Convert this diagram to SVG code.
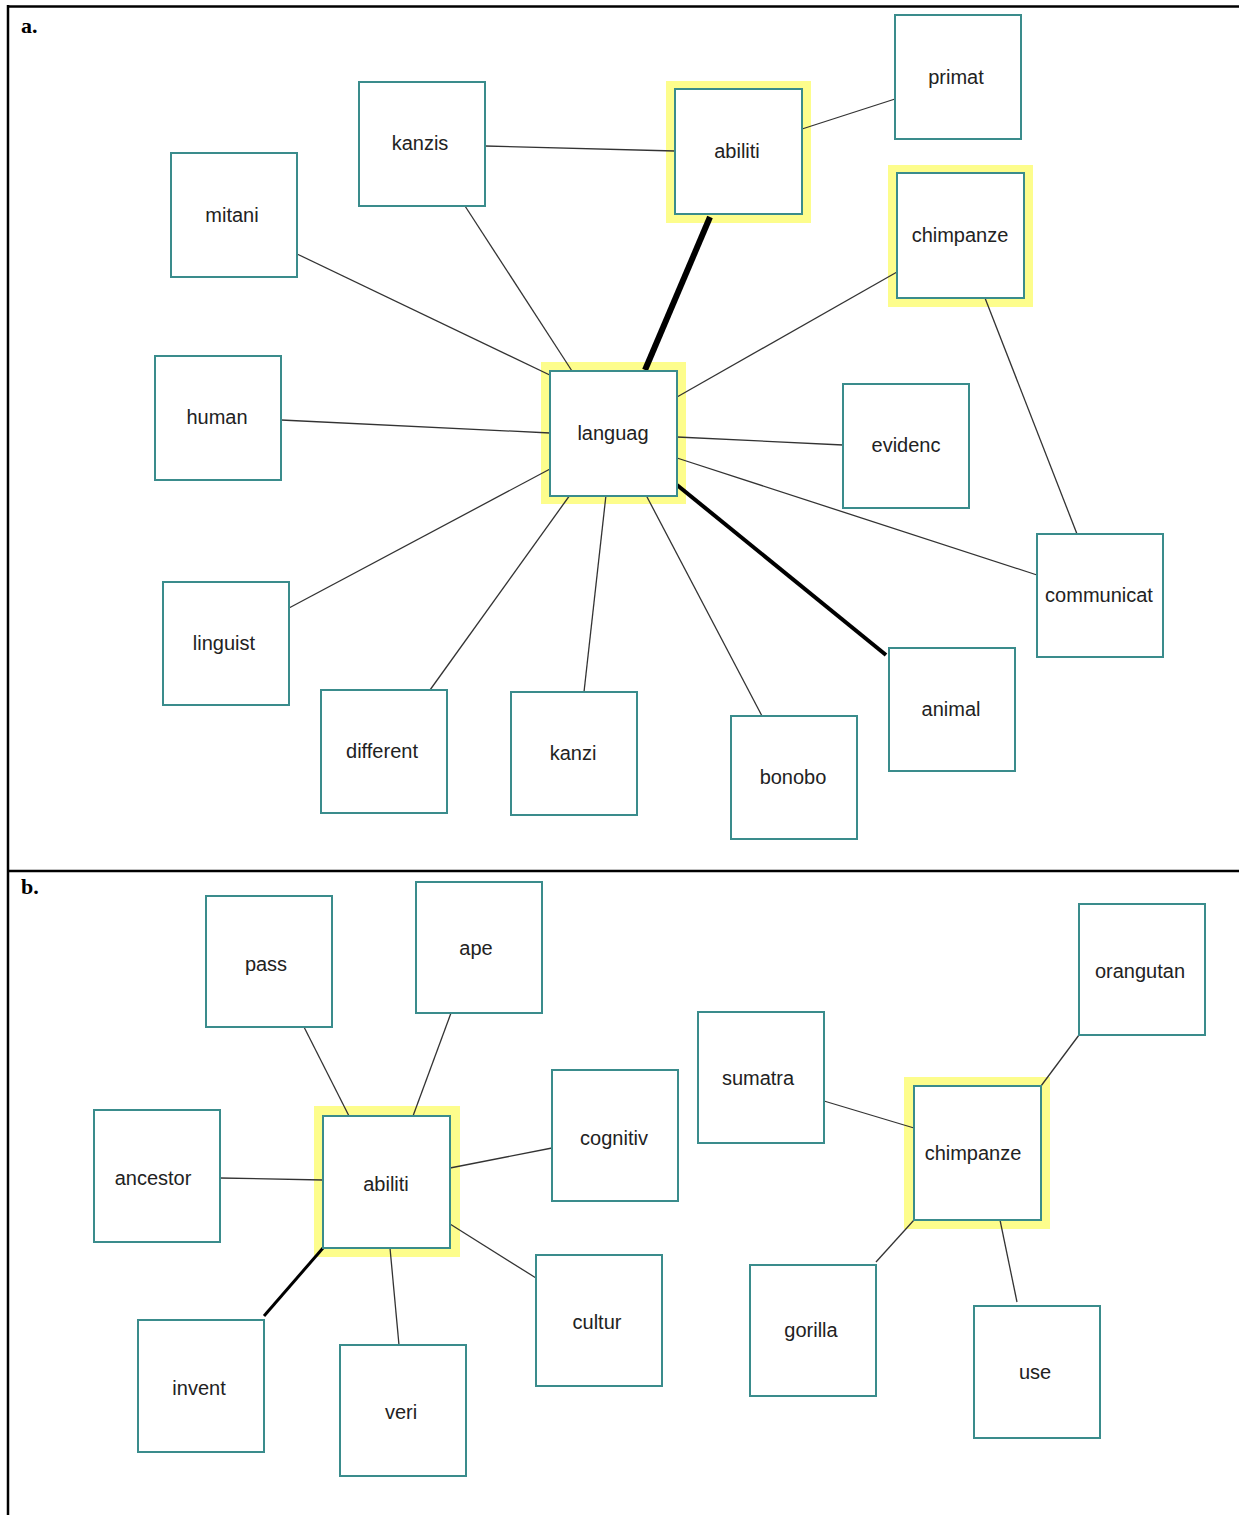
<svg xmlns="http://www.w3.org/2000/svg" width="1239" height="1515" viewBox="0 0 1239 1515">
<style>
.frame{stroke:#000;stroke-width:2.5;fill:none}
.lbl{font-family:"Times New Roman","Liberation Serif",serif;font-weight:bold;font-size:22px;fill:#000}
.hl{fill:#fdfd8c;stroke:none}
.box{fill:#fff;stroke:#3a8c8c;stroke-width:2}
.t{font-family:Arial,"Liberation Sans",sans-serif;font-size:20px;fill:#222;text-anchor:middle}
.e{stroke:#333;stroke-width:1.3;fill:none}
.e3{stroke:#000;stroke-width:3;fill:none}
.e4{stroke:#000;stroke-width:4;fill:none}
.e6{stroke:#000;stroke-width:6;fill:none}
</style>
<rect width="1239" height="1515" fill="#fff"/>
<g id="frame">
<line class="frame" x1="7" y1="6.5" x2="1239" y2="6.5"/>
<line class="frame" x1="8" y1="5" x2="8" y2="1515"/>
<line class="frame" x1="7" y1="871" x2="1239" y2="871"/>
<text class="lbl" x="21" y="33">a.</text>
<text class="lbl" x="21" y="894">b.</text>
</g>
<g id="highlights">
<rect class="hl" x="666" y="81" width="145" height="142"/>
<rect class="hl" x="888" y="165" width="145" height="142"/>
<rect class="hl" x="541" y="362" width="145" height="142"/>
<rect class="hl" x="314" y="1106" width="146" height="151"/>
<rect class="hl" x="904" y="1077" width="146" height="152"/>
</g>
<g id="connectors">
<line class="e" x1="485" y1="146" x2="675" y2="151"/>
<line class="e" x1="802" y1="129" x2="895" y2="99"/>
<line class="e6" x1="710" y1="217" x2="645" y2="370"/>
<line class="e" x1="465" y1="206" x2="572" y2="371"/>
<line class="e" x1="297" y1="254" x2="556" y2="378"/>
<line class="e" x1="897" y1="272" x2="677" y2="397"/>
<line class="e" x1="281" y1="420" x2="550" y2="433"/>
<line class="e" x1="677" y1="437" x2="843" y2="445"/>
<line class="e" x1="677" y1="458" x2="1037" y2="575"/>
<line class="e" x1="289" y1="608" x2="550" y2="469"/>
<line class="e" x1="430" y1="690" x2="570" y2="495"/>
<line class="e" x1="584" y1="692" x2="606" y2="495"/>
<line class="e" x1="762" y1="716" x2="646" y2="495"/>
<line class="e4" x1="886" y1="655" x2="677" y2="485"/>
<line class="e" x1="985" y1="298" x2="1077" y2="534"/>
<line class="e" x1="304" y1="1027" x2="349" y2="1116"/>
<line class="e" x1="451" y1="1013" x2="413" y2="1116"/>
<line class="e" x1="220" y1="1178" x2="323" y2="1180"/>
<line class="e" x1="552" y1="1148" x2="450" y2="1168"/>
<line class="e" x1="536" y1="1278" x2="450" y2="1224"/>
<line class="e" x1="399" y1="1345" x2="390" y2="1248"/>
<line class="e3" x1="264" y1="1316" x2="323" y2="1248"/>
<line class="e" x1="824" y1="1101" x2="914" y2="1128"/>
<line class="e" x1="1079" y1="1035" x2="1041" y2="1086"/>
<line class="e" x1="876" y1="1262" x2="914" y2="1220"/>
<line class="e" x1="1017" y1="1302" x2="1000" y2="1220"/>
</g>
<g id="n-kanzis"><rect class="box" x="359" y="82" width="126" height="124"/><text class="t" x="420" y="150">kanzis</text></g>
<g id="n-abiliti-a"><rect class="box" x="675" y="89" width="127" height="125"/><text class="t" x="737" y="158">abiliti</text></g>
<g id="n-primat"><rect class="box" x="895" y="15" width="126" height="124"/><text class="t" x="956" y="84">primat</text></g>
<g id="n-mitani"><rect class="box" x="171" y="153" width="126" height="124"/><text class="t" x="232" y="222">mitani</text></g>
<g id="n-chimpanze-a"><rect class="box" x="897" y="173" width="127" height="125"/><text class="t" x="960" y="242">chimpanze</text></g>
<g id="n-human"><rect class="box" x="155" y="356" width="126" height="124"/><text class="t" x="217" y="424">human</text></g>
<g id="n-languag"><rect class="box" x="550" y="371" width="127" height="125"/><text class="t" x="613" y="440">languag</text></g>
<g id="n-evidenc"><rect class="box" x="843" y="384" width="126" height="124"/><text class="t" x="906" y="452">evidenc</text></g>
<g id="n-communicat"><rect class="box" x="1037" y="534" width="126" height="123"/><text class="t" x="1099" y="602">communicat</text></g>
<g id="n-linguist"><rect class="box" x="163" y="582" width="126" height="123"/><text class="t" x="224" y="650">linguist</text></g>
<g id="n-different"><rect class="box" x="321" y="690" width="126" height="123"/><text class="t" x="382" y="758">different</text></g>
<g id="n-kanzi"><rect class="box" x="511" y="692" width="126" height="123"/><text class="t" x="573" y="760">kanzi</text></g>
<g id="n-bonobo"><rect class="box" x="731" y="716" width="126" height="123"/><text class="t" x="793" y="784">bonobo</text></g>
<g id="n-animal"><rect class="box" x="889" y="648" width="126" height="123"/><text class="t" x="951" y="716">animal</text></g>
<g id="n-pass"><rect class="box" x="206" y="896" width="126" height="131"/><text class="t" x="266" y="971">pass</text></g>
<g id="n-ape"><rect class="box" x="416" y="882" width="126" height="131"/><text class="t" x="476" y="955">ape</text></g>
<g id="n-orangutan"><rect class="box" x="1079" y="904" width="126" height="131"/><text class="t" x="1140" y="978">orangutan</text></g>
<g id="n-sumatra"><rect class="box" x="698" y="1012" width="126" height="131"/><text class="t" x="758" y="1085">sumatra</text></g>
<g id="n-cognitiv"><rect class="box" x="552" y="1070" width="126" height="131"/><text class="t" x="614" y="1145">cognitiv</text></g>
<g id="n-ancestor"><rect class="box" x="94" y="1110" width="126" height="132"/><text class="t" x="153" y="1185">ancestor</text></g>
<g id="n-abiliti-b"><rect class="box" x="323" y="1116" width="127" height="132"/><text class="t" x="386" y="1191">abiliti</text></g>
<g id="n-chimpanze-b"><rect class="box" x="914" y="1086" width="127" height="134"/><text class="t" x="973" y="1160">chimpanze</text></g>
<g id="n-cultur"><rect class="box" x="536" y="1255" width="126" height="131"/><text class="t" x="597" y="1329">cultur</text></g>
<g id="n-gorilla"><rect class="box" x="750" y="1265" width="126" height="131"/><text class="t" x="811" y="1337">gorilla</text></g>
<g id="n-use"><rect class="box" x="974" y="1306" width="126" height="132"/><text class="t" x="1035" y="1379">use</text></g>
<g id="n-invent"><rect class="box" x="138" y="1320" width="126" height="132"/><text class="t" x="199" y="1395">invent</text></g>
<g id="n-veri"><rect class="box" x="340" y="1345" width="126" height="131"/><text class="t" x="401" y="1419">veri</text></g>
</svg>
